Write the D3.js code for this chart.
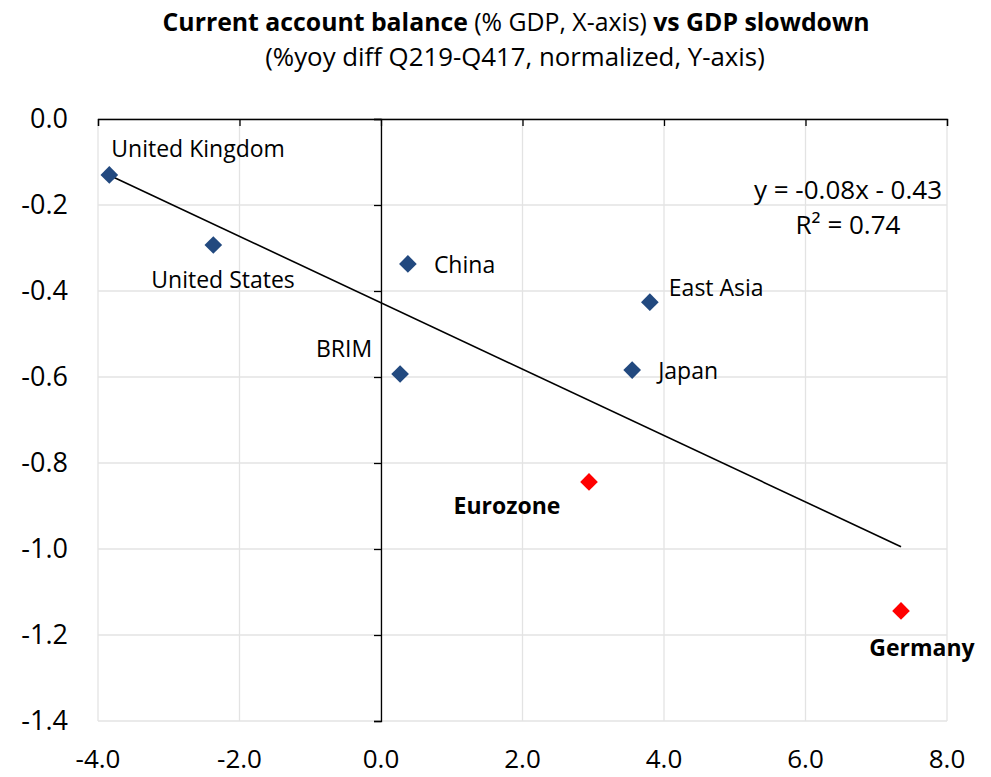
<!DOCTYPE html>
<html>
<head>
<meta charset="utf-8">
<script src="https://cdn.jsdelivr.net/npm/d3@7"></script>
<style>
  html, body { margin: 0; padding: 0; background: #fff; }
  svg { display: block; font-family: "Open Sans", "Noto Sans", sans-serif; }
</style>
</head>
<body>
<svg id="chart" width="991" height="777"></svg>
<script>
// Economies: current account balance (% GDP) vs normalized GDP slowdown
const countries = ["United Kingdom", "United States", "China", "BRIM", "East Asia", "Japan", "Eurozone", "Germany"];
const currentAccount = [-3.84, -2.37, 0.38, 0.27, 3.80, 3.55, 2.94, 7.35];
const gdpSlowdown = [-0.13, -0.293, -0.337, -0.593, -0.426, -0.584, -0.844, -1.144];
const highlighted = [false, false, false, false, false, false, true, true];

const xTicks = [-4, -2, 0, 2, 4, 6, 8];
const yTicks = [0, -0.2, -0.4, -0.6, -0.8, -1.0, -1.2, -1.4];

// Label placement relative to each marker: [dx, dy, anchor]
const labelOffsets = [
  [2, -26, "start"],
  [-62, 35, "start"],
  [26, 1, "start"],
  [-28, -25, "end"],
  [19, -14, "start"],
  [26, 1, "start"],
  [-82, 24, "middle"],
  [21, 37, "middle"]
];

const svg = d3.select("#chart");
const x = d3.scaleLinear().domain([-4, 8]).range([98, 947]);
const y = d3.scaleLinear().domain([-1.4, 0]).range([721, 119]);

const grid = "#e3e3e3";

// Gridlines
svg.append("g").selectAll("line").data(yTicks).join("line")
  .attr("x1", x(-4)).attr("x2", x(8))
  .attr("y1", d => y(d)).attr("y2", d => y(d))
  .attr("stroke", grid).attr("stroke-width", 1.3);
svg.append("g").selectAll("line").data(xTicks).join("line")
  .attr("x1", d => x(d)).attr("x2", d => x(d))
  .attr("y1", y(0)).attr("y2", y(-1.4))
  .attr("stroke", grid).attr("stroke-width", 1.3);

// Horizontal axis crosses at y = 0 (top), ticks point down, labels sit at the bottom
const xAxis = d3.axisBottom(x).tickValues(xTicks).tickSize(7).tickFormat("");
svg.append("g").attr("transform", `translate(0,${y(0)})`).call(xAxis)
  .call(g => g.selectAll("path, line").attr("stroke", "#000").attr("stroke-width", 1.3));
// Vertical axis crosses at x = 0, ticks point left, labels sit on the left edge
const yAxis = d3.axisLeft(y).tickValues(yTicks).tickSize(7).tickFormat("");
svg.append("g").attr("transform", `translate(${x(0)},0)`).call(yAxis)
  .call(g => g.selectAll("path, line").attr("stroke", "#000").attr("stroke-width", 1.3));

// Tick labels
const tickFmt = d => d3.format(".1f")(d).replace("−", "-");
svg.append("g").selectAll("text").data(yTicks).join("text")
  .attr("x", 68).attr("y", d => y(d)).attr("dy", "0.35em")
  .attr("text-anchor", "end").attr("font-size", 27).attr("fill", "#000")
  .text(tickFmt);
svg.append("g").selectAll("text").data(xTicks).join("text")
  .attr("x", d => x(d)).attr("y", 759).attr("dy", "0.35em")
  .attr("text-anchor", "middle").attr("font-size", 26).attr("fill", "#000")
  .text(tickFmt);

// Linear trend (least squares)
const n = currentAccount.length;
const mx = d3.mean(currentAccount), my = d3.mean(gdpSlowdown);
let sxy = 0, sxx = 0, syy = 0;
for (let i = 0; i < n; i++) {
  const dx = currentAccount[i] - mx, dy = gdpSlowdown[i] - my;
  sxy += dx * dy; sxx += dx * dx; syy += dy * dy;
}
const slope = sxy / sxx;
const intercept = my - slope * mx;
const r2 = (sxy * sxy) / (sxx * syy);
const [xmin, xmax] = d3.extent(currentAccount);
svg.append("line")
  .attr("x1", x(xmin)).attr("y1", y(slope * xmin + intercept))
  .attr("x2", x(xmax)).attr("y2", y(slope * xmax + intercept))
  .attr("stroke", "#000").attr("stroke-width", 1.6);

const fmt2 = d3.format(".2f");
const eq = svg.append("text").attr("text-anchor", "middle").attr("font-size", 26).attr("fill", "#000");
eq.append("tspan").attr("x", 848).attr("y", 190).attr("dy", "0.35em")
  .text(`y = ${fmt2(slope)}x ${intercept < 0 ? "-" : "+"} ${fmt2(Math.abs(intercept))}`.replace(/−/g, "-"));
eq.append("tspan").attr("x", 848).attr("y", 225).attr("dy", "0.35em")
  .text(`R² = ${fmt2(r2)}`);

// Markers (diamonds)
svg.append("g").selectAll("path").data(countries).join("path")
  .attr("d", d3.symbol().type(d3.symbolSquare).size(12.5 * 12.5))
  .attr("transform", (d, i) => `translate(${x(currentAccount[i])},${y(gdpSlowdown[i])}) rotate(45)`)
  .attr("fill", (d, i) => highlighted[i] ? "#ff0000" : "#22497f");

// Data labels
svg.append("g").selectAll("text").data(countries).join("text")
  .attr("x", (d, i) => x(currentAccount[i]) + labelOffsets[i][0])
  .attr("y", (d, i) => y(gdpSlowdown[i]) + labelOffsets[i][1])
  .attr("dy", "0.35em")
  .attr("text-anchor", (d, i) => labelOffsets[i][2])
  .attr("font-size", 23)
  .attr("font-weight", (d, i) => highlighted[i] ? "bold" : "normal")
  .attr("fill", "#000")
  .text(d => d);

// Title
const title = svg.append("text").attr("text-anchor", "middle").attr("fill", "#000");
const l1 = title.append("tspan").attr("x", 516).attr("y", 22).attr("dy", "0.35em").attr("font-size", 24.8);
l1.append("tspan").attr("font-weight", "bold").text("Current account balance");
l1.append("tspan").text(" (% GDP, X-axis) ");
l1.append("tspan").attr("font-weight", "bold").text("vs GDP slowdown");
title.append("tspan").attr("x", 515).attr("y", 57).attr("dy", "0.35em").attr("font-size", 25.8)
  .text("(%yoy diff Q219-Q417, normalized, Y-axis)");
</script>
</body>
</html>
